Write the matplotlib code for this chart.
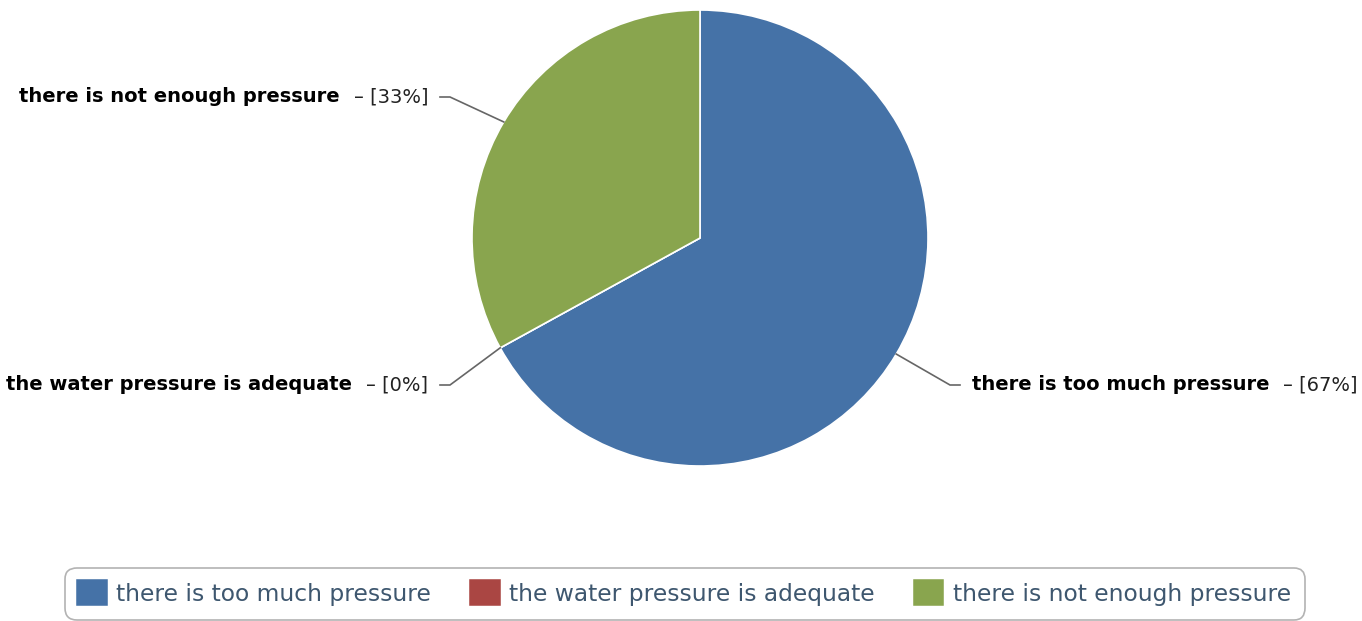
import numpy as np
import matplotlib
matplotlib.use('Agg')
import matplotlib.pyplot as plt
from matplotlib.patches import Patch

# dati
categorie = ['there is too much pressure', 'the water pressure is adequate', 'there is not enough pressure']
percentuali = [67, 0, 33]
colori = ['#4572A7', '#AA4643', '#89A54E']

W, H = 1362, 621
fig = plt.figure(figsize=(W / 100, H / 100), dpi=100)
ax = fig.add_axes([0, 0, 1, 1])

cx, cy, r = 700, 383, 228
wedges, _ = ax.pie(percentuali, colors=colori, startangle=90, counterclock=False,
                   center=(cx, cy), radius=r, frame=True,
                   wedgeprops=dict(edgecolor='white', linewidth=1.2))
ax.set_xlim(0, W)
ax.set_ylim(0, H)
ax.set_aspect('equal')
ax.axis('off')

# posizione verticale delle etichette (layout)
label_y = [236, 236, 524]
fs = 14

for w, nome, p, ly in zip(wedges, categorie, percentuali, label_y):
    mid = np.deg2rad((w.theta1 + w.theta2) / 2)
    ex, ey = cx + r * np.cos(mid), cy + r * np.sin(mid)
    lato = 1 if np.cos(mid) > 0 else -1
    gx = cx + lato * (r + 22)
    fx = gx + lato * 10
    ax.plot([ex, gx, fx], [ey, ly, ly], color='#666666', lw=1.2, solid_joinstyle='miter')
    tx = fx + lato * 12
    if lato < 0:
        t = ax.text(tx, ly, '\u2013 [%d%%]' % p, ha='right', va='center', fontsize=fs, color='#222222')
        ax.annotate(nome + '  ', xy=(0, 0.5), xycoords=t, ha='right', va='center',
                    fontsize=fs, fontweight='bold', color='black')
    else:
        t = ax.text(tx, ly, nome + '  ', ha='left', va='center', fontsize=fs,
                    fontweight='bold', color='black')
        ax.annotate('\u2013 [%d%%]' % p, xy=(1, 0.5), xycoords=t, ha='left', va='center',
                    fontsize=fs, color='#222222')

handles = [Patch(facecolor=c, edgecolor=c, joinstyle='round', linewidth=4) for c in colori]
leg = fig.legend(handles, categorie, loc='center', bbox_to_anchor=(0.503, 0.044), ncol=3,
                 fontsize=16.8, frameon=True, fancybox=True, handlelength=1.1, handleheight=1.05,
                 handletextpad=0.5, columnspacing=1.75, borderpad=0.6, labelcolor='#3E576F')
leg.get_frame().set_edgecolor('#A0A0A0')
leg.get_frame().set_linewidth(1.2)
leg.get_frame().set_boxstyle('round', pad=0, rounding_size=0.5)

fig.savefig('out.png', dpi=100)
